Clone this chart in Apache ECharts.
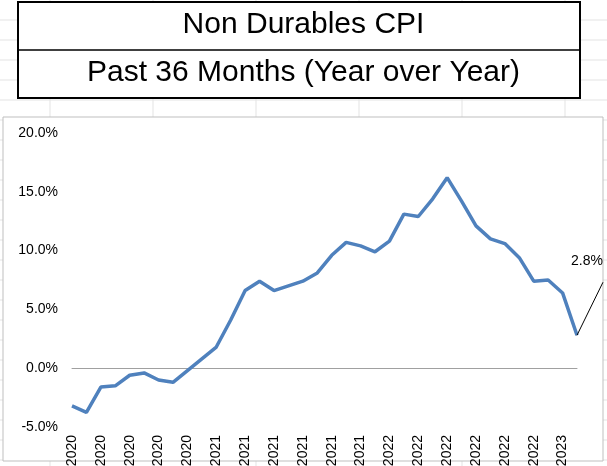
<!DOCTYPE html>
<html>
<head>
<meta charset="utf-8">
<script src="https://cdn.jsdelivr.net/npm/echarts@6/dist/echarts.min.js"></script>
<style>html,body{margin:0;padding:0;background:#fff}#chart{width:607px;height:466px}</style>
</head>
<body>
<div id="chart"></div>
<script>
var months=[];
for(var y=2020;y<=2023;y++){for(var m=1;m<=12;m++){if((y==2020&&m<4)||(y==2023&&m>3))continue;months.push(m+'/1/'+y);}}
var cpiYoY=[-3.2,-3.75,-1.6,-1.5,-0.6,-0.4,-1.0,-1.2,-0.2,0.8,1.8,4.1,6.6,7.4,6.6,7.0,7.4,8.1,9.6,10.7,10.4,9.9,10.8,13.1,12.9,14.4,16.2,14.2,12.1,11.0,10.6,9.4,7.4,7.5,6.4,2.8];
var titleLines=['Non Durables CPI','Past 36 Months (Year over Year)'];

var seriesData=cpiYoY.map(function(v,i){
    if(i==cpiYoY.length-1){
        return {value:v,label:{show:true,position:'top',offset:[10,-62],formatter:'2.8%',color:'#000',fontSize:14,fontFamily:'Liberation Sans'},
            labelLine:{show:true,lineStyle:{color:'#000',width:1}}};
    }
    return v;
});

// faint spreadsheet cells behind the chart
var cells=[];
for(var gx=50;gx<607;gx+=103){cells.push({type:'line',z:-10,shape:{x1:gx,y1:0,x2:gx,y2:466},style:{stroke:'#e3e3e3',lineWidth:1}});}
for(var gy=20;gy<466;gy+=20){cells.push({type:'line',z:-10,shape:{x1:0,y1:gy,x2:607,y2:gy},style:{stroke:'#e3e3e3',lineWidth:1}});}

var myChart=echarts.init(document.getElementById('chart'));
var option={
    backgroundColor:'#fff',
    animation:false,
    graphic:cells.concat([
        {type:'rect',z:-5,shape:{x:18,y:2,width:562,height:96},style:{fill:'#fff',stroke:'#000',lineWidth:2}},
        {type:'line',z:-4,shape:{x1:18,y1:50,x2:580,y2:50},style:{stroke:'#000',lineWidth:1.5}},
        {type:'text',left:'center',top:10,style:{text:titleLines[0],fontSize:30,fontFamily:'Liberation Sans',fill:'#000'}},
        {type:'text',left:'center',top:58,style:{text:titleLines[1],fontSize:30,fontFamily:'Liberation Sans',fill:'#000'}},
        {type:'rect',z:-5,shape:{x:3,y:117,width:600,height:344},style:{fill:'#fff',stroke:'#bfbfbf',lineWidth:1}}
    ]),
    grid:{left:72,right:30,top:133,bottom:39,outerBoundsMode:'none',containLabel:false},
    xAxis:{
        type:'category',data:months,boundaryGap:false,
        axisLine:{onZero:true,lineStyle:{color:'#a0a0a0'}},
        axisTick:{show:false},
        axisLabel:{interval:1,rotate:90,color:'#000',fontSize:14,fontFamily:'Liberation Sans',margin:8}
    },
    yAxis:{
        type:'value',min:-5,max:20,interval:5,
        splitLine:{show:false},axisLine:{show:false},axisTick:{show:false},
        axisLabel:{formatter:function(v){return v.toFixed(1)+'%';},color:'#000',fontSize:14,fontFamily:'Liberation Sans',margin:14}
    },
    series:[{
        type:'line',data:seriesData,symbol:'circle',symbolSize:0.01,showSymbol:true,
        itemStyle:{color:'#4f81bd'},
        lineStyle:{color:'#4f81bd',width:3.5}
    }]
};
myChart.setOption(option);
</script>
</body>
</html>
